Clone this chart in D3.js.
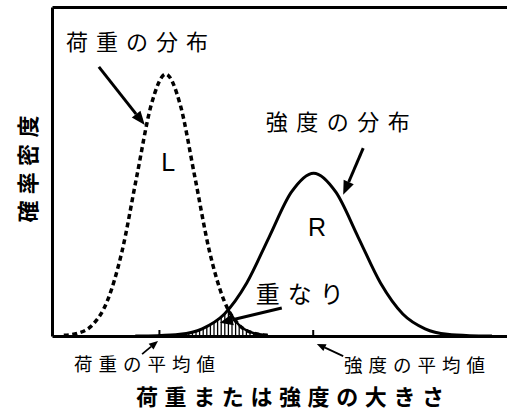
<!DOCTYPE html>
<html>
<head>
<meta charset="utf-8">
<script src="https://cdn.jsdelivr.net/npm/d3@7"></script>
<style>
  html, body { margin: 0; padding: 0; background: #fff; }
  svg { display: block; }
  text { font-family: "Noto Sans CJK JP", "Noto Sans", sans-serif; fill: #000; }
</style>
</head>
<body>
<svg id="chart" width="507" height="413"></svg>
<script>
// 荷重 L の分布: 横軸位置と確率密度
const loadX = [2.6, 5.8, 9.0, 12.2, 15.4, 18.6, 21.8, 25.0, 28.2, 31.4, 34.6, 37.8, 41.0, 44.2, 47.4];
const loadY = [0.002, 0.009, 0.035, 0.108, 0.258, 0.483, 0.702, 0.796, 0.702, 0.483, 0.258, 0.108, 0.035, 0.009, 0.002];

// 強度 R の分布
const strengthX = [18.3, 23.2, 28.1, 33.0, 37.9, 42.8, 47.7, 52.6, 57.5, 62.4, 67.3, 72.2, 77.1, 82.0, 86.9, 91.8, 96.7];
const strengthY = [0, 0.001, 0.005, 0.022, 0.067, 0.161, 0.300, 0.437, 0.495, 0.437, 0.300, 0.161, 0.067, 0.022, 0.005, 0.001, 0];

// 平均値の目盛り位置
const meanTicks = [23.5, 57.3];

// 注記テキスト
const curveNames = ["L", "R"];
const labelTexts = ["荷重の分布", "強度の分布", "重なり", "荷重の平均値", "強度の平均値"];
const xTitle = "荷重または強度の大きさ";
const yTitle = "確率密度";

// ---- layout ----
const W = 507, H = 413;
const frame = { left: 52, right: 507, top: 7, bottom: 336 };

const svg = d3.select("#chart");

const x = d3.scaleLinear().domain([0, 100]).range([frame.left, frame.right]);
const y = d3.scaleLinear().domain([0, 1]).range([frame.bottom, frame.top]);

const loadPts = loadX.map((v, i) => [v, loadY[i]]);
const strengthPts = strengthX.map((v, i) => [v, strengthY[i]]);

const line = d3.line().x(d => x(d[0])).y(d => y(d[1])).curve(d3.curveMonotoneX);
const area = d3.area().x(d => x(d[0])).y0(y(0)).y1(d => y(d[1])).curve(d3.curveMonotoneX);

const defs = svg.append("defs");
defs.append("clipPath").attr("id", "clip-load").append("path").attr("d", area(loadPts));
defs.append("clipPath").attr("id", "clip-strength").append("path").attr("d", area(strengthPts));

// 重なり部分のハッチング
const hatch = svg.append("g").attr("clip-path", "url(#clip-load)")
  .append("g").attr("clip-path", "url(#clip-strength)");
hatch.selectAll("line")
  .data(d3.range(frame.left, frame.right, 3.6))
  .join("line")
  .attr("x1", d => d).attr("x2", d => d)
  .attr("y1", y(0)).attr("y2", y(1))
  .attr("stroke", "#000").attr("stroke-width", 1.3);

// 強度の分布 (実線)
svg.append("path")
  .attr("d", line(strengthPts))
  .attr("fill", "none").attr("stroke", "#000").attr("stroke-width", 3);

// 荷重の分布 (点線)
svg.append("path")
  .attr("d", line(loadPts))
  .attr("fill", "none").attr("stroke", "#000").attr("stroke-width", 3.5)
  .attr("stroke-dasharray", "5,3.5");

// 重なり部分の境界 (荷重分布の裾)
svg.append("path")
  .attr("clip-path", "url(#clip-strength)")
  .attr("d", line(loadPts))
  .attr("fill", "none").attr("stroke", "#000").attr("stroke-width", 2.5);

// ---- axes / frame ----
const styleAxis = g => {
  g.select(".domain").attr("stroke", "#000").attr("stroke-width", 3);
  g.selectAll(".tick line").attr("stroke", "#000").attr("stroke-width", 2);
  g.selectAll(".tick text").remove();
};

svg.append("g")
  .attr("transform", `translate(0,${frame.bottom})`)
  .call(d3.axisBottom(x).tickValues(meanTicks).tickSizeInner(-6).tickSizeOuter(0).tickFormat(""))
  .call(styleAxis);

svg.append("g")
  .attr("transform", `translate(${frame.left},0)`)
  .call(d3.axisLeft(y).tickValues([]).tickSizeOuter(0))
  .call(styleAxis);

svg.append("g")
  .attr("transform", `translate(0,${frame.top})`)
  .call(d3.axisTop(x).tickValues([]).tickSizeOuter(0))
  .call(styleAxis);

// ---- annotations ----
function arrow(a, width, headLen, headHalf) {
  const x1 = x(a.x1), y1 = y(a.y1), x2 = x(a.x2), y2 = y(a.y2);
  const ang = Math.atan2(y2 - y1, x2 - x1);
  const bx = x2 - headLen * Math.cos(ang), by = y2 - headLen * Math.sin(ang);
  svg.append("line")
    .attr("x1", x1).attr("y1", y1).attr("x2", bx).attr("y2", by)
    .attr("stroke", "#000").attr("stroke-width", width);
  svg.append("path")
    .attr("d", `M${x2},${y2}L${bx + headHalf * Math.sin(ang)},${by - headHalf * Math.cos(ang)}L${bx - headHalf * Math.sin(ang)},${by + headHalf * Math.cos(ang)}Z`)
    .attr("fill", "#000");
}

arrow({ x1: 10.3, y1: 0.818, x2: 20.4, y2: 0.641 }, 3, 14, 5.5);
arrow({ x1: 68.4, y1: 0.571, x2: 64.0, y2: 0.429 }, 3, 14, 5.5);
arrow({ x1: 50.5, y1: 0.085, x2: 36.9, y2: 0.040 }, 3, 13, 5.5);
arrow({ x1: 19.8, y1: -0.055, x2: 23.3, y2: -0.015 }, 1.8, 9, 3.8);
arrow({ x1: 64.0, y1: -0.061, x2: 58.2, y2: -0.024 }, 1.8, 9, 3.8);

function label(text, px, py, size, spacing, weight) {
  return svg.append("text")
    .attr("x", x(px)).attr("y", y(py))
    .attr("font-size", size)
    .attr("letter-spacing", spacing)
    .attr("font-weight", weight || 400)
    .text(text);
}

label(labelTexts[0], 3.08, 0.868, 22, 8);
label(labelTexts[1], 47.0, 0.625, 22, 8.5);
label(labelTexts[2], 44.8, 0.100, 24, 8);
label(labelTexts[3], 4.84, -0.105, 18.5, 6);
label(labelTexts[4], 64.2, -0.108, 18.5, 6);

label(curveNames[0], 24.0, 0.502, 25, 0).style("font-family", "'Liberation Sans', Arial, sans-serif");
label(curveNames[1], 56.26, 0.304, 25, 0).style("font-family", "'Liberation Sans', Arial, sans-serif");

label(xTitle, 18.46, -0.211, 22, 6.6, 700);

svg.append("text")
  .attr("transform", `translate(${x(-3.41)},${y(0.345)}) rotate(-90)`)
  .attr("font-size", 22)
  .attr("letter-spacing", 6.3)
  .attr("font-weight", 700)
  .text(yTitle);
</script>
</body>
</html>
